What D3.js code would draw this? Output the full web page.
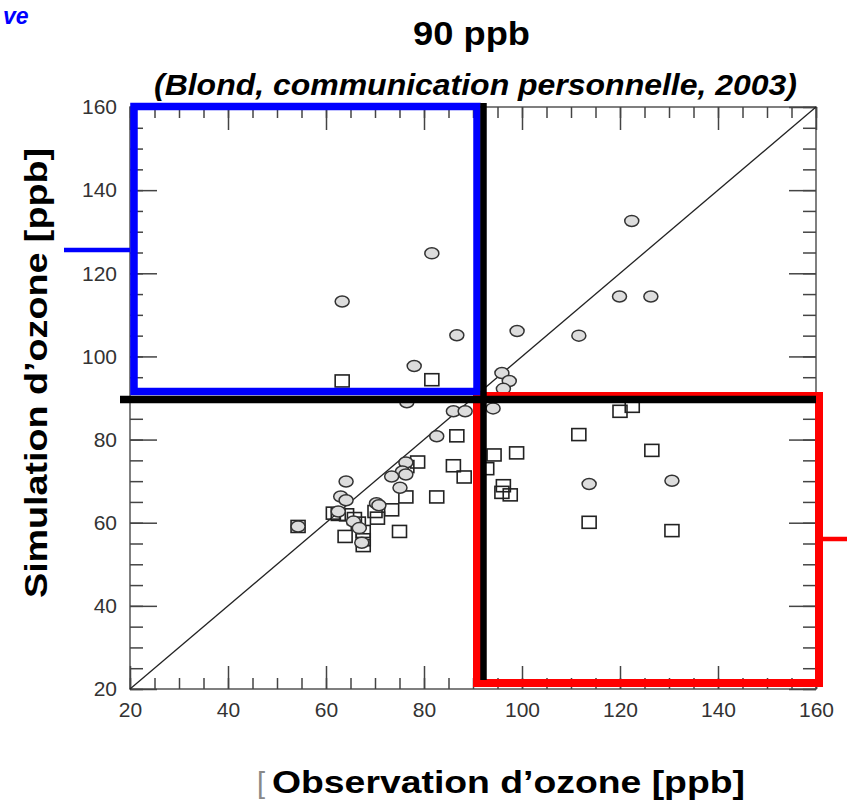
<!DOCTYPE html>
<html>
<head>
<meta charset="utf-8">
<script src="https://cdn.jsdelivr.net/npm/d3@7"></script>
<style>
  body { margin: 0; background: #fff; }
  svg { display: block; font-family: "Liberation Sans", Arial, sans-serif; }
</style>
</head>
<body>
<div id="myChart"></div>
<script>

// Observed ozone (x) and simulated ozone (y), ppb
var circleObs = [63.3, 81.6, 86.7, 78.0, 122.4, 119.9, 126.3, 99.0, 111.6, 95.9, 97.4, 96.2,
	94.1, 76.5, 86.0, 88.4, 82.6, 113.7, 130.6, 76.3, 75.6, 73.4, 76.3, 75.1,
	64.1, 63.0, 64.1, 62.5, 65.6, 66.8, 67.3, 70.3, 70.8, 54.3];
var circleSim = [113.2, 124.8, 105.1, 97.7, 132.6, 114.4, 114.4, 106.1, 105.0, 96.0, 94.1, 92.2,
	87.5, 89.0, 86.8, 86.8, 80.8, 69.3, 70.1, 74.5, 72.3, 71.1, 71.6, 68.4,
	69.9, 66.3, 65.4, 62.7, 60.3, 58.7, 55.2, 64.7, 64.2, 59.1];

var squareObs = [63.3, 81.6, 120.0, 122.5, 111.6, 126.5, 94.3, 98.9, 92.8, 96.2, 95.9, 97.6,
	113.7, 130.6, 86.7, 78.7, 76.5, 86.0, 88.2, 82.6, 76.3, 73.4, 75.0, 70.0, 70.5,
	54.3, 61.5, 62.5, 64.2, 65.8, 66.6, 67.6, 63.9, 67.6, 67.6];
var squareSim = [94.1, 94.4, 86.8, 88.0, 81.2, 77.4, 76.3, 76.8, 73.0, 68.9, 67.3, 66.7,
	60.1, 58.1, 80.9, 74.6, 73.5, 73.7, 71.0, 66.2, 66.2, 63.1, 57.9, 62.7, 61.1,
	59.1, 62.3, 62.0, 61.9, 61.0, 59.9, 57.9, 56.7, 55.9, 54.5];

var majorTicks = [20, 40, 60, 80, 100, 120, 140, 160];
var minorTicks = d3.range(20, 161, 5);
var threshold = 90;

// Main svg window sizes
var width = 847;
var height = 808;

var svg = d3.select("#myChart")
	.append("svg")
	.attr("width", width)
	.attr("height", height);

var xScale = d3.scaleLinear().domain([20, 160]).range([130, 816]);
var yScale = d3.scaleLinear().domain([20, 160]).range([689, 107]);

// frame
svg.append("rect")
	.attr("x", xScale(20))
	.attr("y", yScale(160))
	.attr("width", xScale(160) - xScale(20))
	.attr("height", yScale(20) - yScale(160))
	.attr("fill", "none")
	.attr("stroke", "#555")
	.attr("stroke-width", 1.5);

// axes, ticks pointing inward
function styleAxis(g) {
	g.select(".domain").remove();
	g.selectAll("line").attr("stroke", "#444").attr("stroke-width", 1.5);
	g.selectAll("text")
		.attr("fill", "#333")
		.style("font-size", "21px")
		.style("font-family", "'Liberation Sans', Arial, sans-serif");
}

svg.append("g")
	.attr("transform", "translate(0," + yScale(20) + ")")
	.call(d3.axisBottom(xScale).tickValues(minorTicks).tickSize(-11).tickFormat(""))
	.call(styleAxis);
svg.append("g")
	.attr("transform", "translate(0," + yScale(20) + ")")
	.call(d3.axisBottom(xScale).tickValues(majorTicks).tickSize(-23).tickPadding(13))
	.call(styleAxis);
svg.append("g")
	.attr("transform", "translate(0," + yScale(160) + ")")
	.call(d3.axisTop(xScale).tickValues(minorTicks).tickSize(-11).tickFormat(""))
	.call(styleAxis);
svg.append("g")
	.attr("transform", "translate(0," + yScale(160) + ")")
	.call(d3.axisTop(xScale).tickValues(majorTicks).tickSize(-23).tickFormat(""))
	.call(styleAxis);

svg.append("g")
	.attr("transform", "translate(" + xScale(20) + ",0)")
	.call(d3.axisLeft(yScale).tickValues(minorTicks).tickSize(-13).tickFormat(""))
	.call(styleAxis);
svg.append("g")
	.attr("transform", "translate(" + xScale(20) + ",0)")
	.call(d3.axisLeft(yScale).tickValues(majorTicks).tickSize(-27).tickPadding(13))
	.call(styleAxis);
svg.append("g")
	.attr("transform", "translate(" + xScale(160) + ",0)")
	.call(d3.axisRight(yScale).tickValues(minorTicks).tickSize(-13).tickFormat(""))
	.call(styleAxis);
svg.append("g")
	.attr("transform", "translate(" + xScale(160) + ",0)")
	.call(d3.axisRight(yScale).tickValues(majorTicks).tickSize(-27).tickFormat(""))
	.call(styleAxis);

// 1:1 line
svg.append("line")
	.attr("x1", xScale(20)).attr("y1", yScale(20))
	.attr("x2", xScale(160)).attr("y2", yScale(160))
	.attr("stroke", "#222")
	.attr("stroke-width", 1.3);

// points
var pts = svg.append("g");

pts.selectAll("rect.sq")
	.data(d3.range(squareObs.length))
	.enter()
	.append("rect")
	.attr("class", "sq")
	.attr("x", function(i) { return xScale(squareObs[i]) - 7; })
	.attr("y", function(i) { return yScale(squareSim[i]) - 6; })
	.attr("width", 14)
	.attr("height", 12)
	.attr("fill", "none")
	.attr("stroke", "#222")
	.attr("stroke-width", 1.6);

pts.selectAll("ellipse")
	.data(d3.range(circleObs.length))
	.enter()
	.append("ellipse")
	.attr("cx", function(i) { return xScale(circleObs[i]); })
	.attr("cy", function(i) { return yScale(circleSim[i]); })
	.attr("rx", 7)
	.attr("ry", 5.5)
	.attr("fill", "#ddd")
	.attr("stroke", "#333")
	.attr("stroke-width", 1.5);

// coloured quadrants
svg.append("rect")
	.attr("x", xScale(threshold) + 4)
	.attr("y", yScale(threshold) - 2)
	.attr("width", xScale(160) - xScale(threshold) - 1)
	.attr("height", yScale(20) - yScale(threshold) - 4)
	.attr("fill", "none")
	.attr("stroke", "#ff0000")
	.attr("stroke-width", 8);

svg.append("rect")
	.attr("x", xScale(20) + 4)
	.attr("y", yScale(160) - 0.5)
	.attr("width", xScale(threshold) - xScale(20))
	.attr("height", yScale(threshold) - yScale(160) - 6)
	.attr("fill", "none")
	.attr("stroke", "#0000ff")
	.attr("stroke-width", 7.5);

// leader lines
svg.append("line")
	.attr("x1", 64).attr("x2", xScale(20))
	.attr("y1", 250).attr("y2", 250)
	.attr("stroke", "#0000ff").attr("stroke-width", 4.5);
svg.append("line")
	.attr("x1", xScale(160) + 6).attr("x2", width)
	.attr("y1", 539).attr("y2", 539)
	.attr("stroke", "#ff0000").attr("stroke-width", 4.5);

// black threshold lines
svg.append("line")
	.attr("x1", 120).attr("x2", xScale(160))
	.attr("y1", yScale(threshold) + 1.5).attr("y2", yScale(threshold) + 1.5)
	.attr("stroke", "#000").attr("stroke-width", 7.5);
svg.append("line")
	.attr("x1", xScale(threshold) + 10.5).attr("x2", xScale(threshold) + 10.5)
	.attr("y1", yScale(160) - 4).attr("y2", yScale(20) - 9)
	.attr("stroke", "#000").attr("stroke-width", 6.5);

// texts
svg.append("text")
	.attr("x", 3).attr("y", 24)
	.attr("fill", "#0000ff")
	.style("font-size", "23px").style("font-weight", "bold").style("font-style", "italic")
	.text("ve");

svg.append("text")
	.attr("x", 413).attr("y", 45)
	.attr("textLength", 117)
	.attr("lengthAdjust", "spacingAndGlyphs")
	.style("font-size", "33px").style("font-weight", "bold")
	.text("90 ppb");

svg.append("text")
	.attr("x", 154).attr("y", 95)
	.attr("textLength", 643)
	.attr("lengthAdjust", "spacingAndGlyphs")
	.style("font-size", "29px").style("font-weight", "bold").style("font-style", "italic")
	.text("(Blond, communication personnelle, 2003)");

svg.append("text")
	.attr("transform", "translate(47,598) rotate(-90)")
	.attr("textLength", 450)
	.attr("lengthAdjust", "spacingAndGlyphs")
	.style("font-size", "31px").style("font-weight", "bold")
	.text("Simulation d\u2019ozone [ppb]");

svg.append("text")
	.attr("x", 257).attr("y", 793)
	.attr("fill", "#888")
	.style("font-size", "29px")
	.text("[");
svg.append("text")
	.attr("x", 272).attr("y", 793)
	.attr("textLength", 473)
	.attr("lengthAdjust", "spacingAndGlyphs")
	.style("font-size", "31px").style("font-weight", "bold")
	.text("Observation d\u2019ozone [ppb]");

</script>
</body>
</html>
